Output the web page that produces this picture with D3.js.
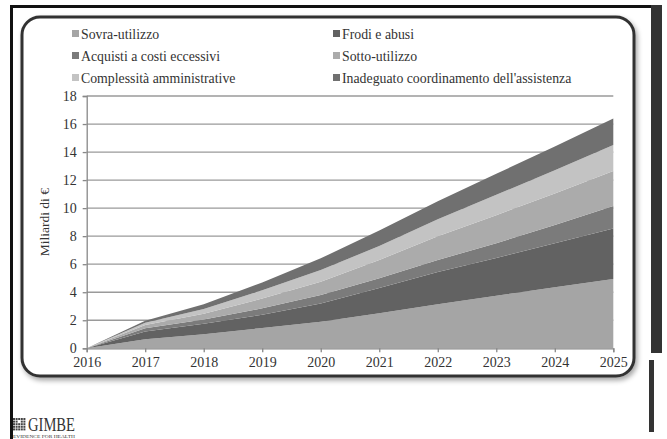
<!DOCTYPE html>
<html><head><meta charset="utf-8">
<script src="https://cdn.jsdelivr.net/npm/d3@7"></script>
<style>body{margin:0;background:#fff}svg{display:block}text{font-family:"Liberation Serif","DejaVu Serif",serif;fill:#333}</style>
</head><body>
<script>
const years = [2016,2017,2018,2019,2020,2021,2022,2023,2024,2025];
const seriesNames = ["Sovra-utilizzo","Frodi e abusi","Acquisti a costi eccessivi","Sotto-utilizzo","Complessità amministrative","Inadeguato coordinamento dell'assistenza"];
const sovra   = [0,0.64,1.00,1.45,1.90,2.50,3.15,3.75,4.35,4.95];
const frodi   = [0,0.55,0.75,0.95,1.30,1.80,2.30,2.70,3.15,3.60];
const acquisti= [0,0.24,0.30,0.45,0.60,0.70,0.85,1.05,1.30,1.60];
const sotto   = [0,0.23,0.42,0.70,0.95,1.30,1.70,2.00,2.25,2.50];
const compl   = [0,0.17,0.33,0.60,0.83,1.00,1.20,1.45,1.65,1.85];
const inad    = [0,0.14,0.35,0.55,0.84,1.10,1.30,1.50,1.70,1.90];
const yTicks = [0,2,4,6,8,10,12,14,16,18];
const colors = ["#a5a5a5","#626262","#7b7b7b","#ababab","#c3c3c3","#707070"];

const W=667,H=439;
const svg=d3.select("body").append("svg").attr("width",W).attr("height",H);
const defs=svg.append("defs");
const f=defs.append("filter").attr("id","sh").attr("x","-5%").attr("y","-5%").attr("width","110%").attr("height","115%");
f.append("feDropShadow").attr("dx",2).attr("dy",3).attr("stdDeviation",2.5).attr("flood-color","#000").attr("flood-opacity",0.35);

// outer frame
svg.append("rect").attr("x",10).attr("y",5).attr("width",652).attr("height",3).attr("fill","#111");
svg.append("rect").attr("x",10).attr("y",5).attr("width",3).attr("height",434).attr("fill","#111");
svg.append("rect").attr("x",651).attr("y",5).attr("width",11).attr("height",348).attr("fill","#333");
svg.append("rect").attr("x",649).attr("y",360).attr("width",5).attr("height",72).attr("fill","#333");

// rounded box
svg.append("rect").attr("x",22).attr("y",17).attr("width",612).attr("height",359).attr("rx",18)
  .attr("fill","#fff").attr("stroke","#333").attr("stroke-width",3).attr("filter","url(#sh)");

const x=d3.scaleLinear().domain([2016,2025]).range([86.7,613.3]);
const y=d3.scaleLinear().domain([0,18]).range([348.3,96]);

// gridlines
svg.append("g").selectAll("line").data(yTicks.filter(d=>d>0)).join("line")
  .attr("x1",x(2016)).attr("x2",x(2025)).attr("y1",d=>y(d)).attr("y2",d=>y(d))
  .attr("stroke","#9a9a9a").attr("stroke-width",1.3);

const table=years.map((yr,i)=>({year:yr,s0:sovra[i],s1:frodi[i],s2:acquisti[i],s3:sotto[i],s4:compl[i],s5:inad[i]}));
const keys=["s0","s1","s2","s3","s4","s5"];
const stack=d3.stack().keys(keys)(table);
const area=d3.area().x(d=>x(d.data.year)).y0(d=>y(d[0])).y1(d=>y(d[1]));
svg.append("g").selectAll("path").data(stack).join("path").attr("d",area).attr("fill",(d,i)=>colors[i]);

// axes
const yAxis=svg.append("g").attr("transform",`translate(${x(2016)},0)`)
  .call(d3.axisLeft(y).tickValues(yTicks).tickSize(4).tickPadding(6));
const xAxis=svg.append("g").attr("transform",`translate(0,${y(0)})`)
  .call(d3.axisBottom(x).tickValues(years).tickFormat(d3.format("d")).tickSize(4).tickPadding(5));
[yAxis,xAxis].forEach(g=>{
  g.select(".domain").attr("stroke","#888").attr("stroke-width",1.3);
  g.selectAll(".tick line").attr("stroke","#888").attr("stroke-width",1.3);
  g.selectAll(".tick text").attr("font-family","Liberation Serif, serif").attr("font-size",14).attr("fill","#333");
});

svg.append("text").attr("transform",`translate(49,${y(9)}) rotate(-90)`).attr("text-anchor","middle")
  .attr("font-size",13.5).text("Miliardi di €");

// legend
const legPos=[[72,34],[333,34],[72,56],[333,56],[72,78],[333,78]];
const order=[0,1,2,3,4,5];
const lg=svg.append("g").selectAll("g").data(order).join("g")
  .attr("transform",(d,i)=>`translate(${legPos[i][0]},${legPos[i][1]})`);
lg.append("rect").attr("x",0).attr("y",-4).attr("width",7).attr("height",7).attr("fill",d=>colors[d]);
lg.append("text").attr("x",9).attr("y",4.5).attr("font-size",13.8).text(d=>seriesNames[d]);

// logo
const logo=svg.append("g").attr("transform","translate(13,418)");
for(let i=0;i<5;i++)for(let j=0;j<5;j++){
  logo.append("rect").attr("x",i*2.6).attr("y",j*2.6).attr("width",2).attr("height",2).attr("fill",(i==2&&j==1)?"#fff":"#444");
}
logo.append("text").attr("x",15).attr("y",13).attr("font-size",18).attr("fill","#444")
  .attr("textLength",47).attr("lengthAdjust","spacingAndGlyphs").text("GIMBE");
logo.append("text").attr("x",0).attr("y",20).attr("font-size",4.5).attr("font-family","DejaVu Sans, sans-serif")
  .attr("textLength",62).attr("lengthAdjust","spacingAndGlyphs").attr("fill","#444").text("EVIDENCE FOR HEALTH");
</script>
</body></html>
